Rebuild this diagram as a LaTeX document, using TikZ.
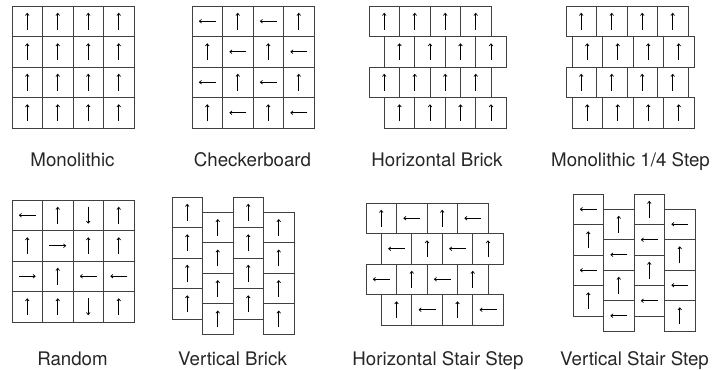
\documentclass[tikz,border=0pt]{standalone}
\usepackage{fontspec}
\setmainfont{TeX Gyre Heros}
\usetikzlibrary{arrows.meta}

\newcommand{\cellsize}{30.5}
% #1,#2 top left corner, #3 shift of odd rows, #4 drop of odd columns, #5 arrow angles row by row
\newcommand{\tilepanel}[5]{%
  \foreach [count=\r from 0] \row in {#5}
    \foreach [count=\c from 0] \a in \row {
      \pgfmathsetmacro{\tx}{#1+\c*\cellsize+mod(\r,2)*#3}
      \pgfmathsetmacro{\ty}{#2-\r*\cellsize-mod(\c,2)*#4}
      \draw[tile] (\tx,\ty) rectangle ++(\cellsize,-\cellsize);
      \draw[dir] (\tx+0.5*\cellsize,\ty-0.5*\cellsize) ++(\a+180:8.5) -- ++(\a:17);
    }
}

\tikzset{
  tile/.style={draw=black!75, line width=0.9pt},
  dir/.style={black, line width=0.7pt, -{Straight Barb[length=2.2pt,width=3.6pt]}},
  panelname/.style={font=\fontsize{18.7}{22}\selectfont, text=black!85, inner sep=0pt, anchor=base}
}

\begin{document}
\begin{tikzpicture}[x=1pt, y=1pt]
    \useasboundingbox (0,0) rectangle (716,370);

    % top row
    \tilepanel{12}{364}{0}{0}{{90,90,90,90},{90,90,90,90},{90,90,90,90},{90,90,90,90}}
    \node[panelname] (mono) at (72.5,203.5) {Monolithic};

    \tilepanel{192}{364}{0}{0}{{180,90,180,90},{90,180,90,180},{180,90,180,90},{90,180,90,180}}
    \node[panelname] (checker) at (252.5,203.5) {Checkerboard};

    \tilepanel{369}{364}{15.25}{0}{{90,90,90,90},{90,90,90,90},{90,90,90,90},{90,90,90,90}}
    \node[panelname] (hbrick) at (437,203.5) {Horizontal Brick};

    \tilepanel{566}{364}{6}{0}{{90,90,90,90},{90,90,90,90},{90,90,90,90},{90,90,90,90}}
    \node[panelname] (quarter) at (630.5,203.5) {Monolithic 1/4 Step};

    % bottom row
    \tilepanel{12}{170}{0}{0}{{180,90,270,90},{90,0,90,90},{0,90,180,180},{90,90,270,90}}
    \node[panelname] (random) at (72.5,4.2) {Random};

    \tilepanel{172}{173}{0}{15.25}{{90,90,90,90},{90,90,90,90},{90,90,90,90},{90,90,90,90}}
    \node[panelname] (vbrick) at (232.5,4.2) {Vertical Brick};

    \tilepanel{366}{167}{15.25}{0}{{90,180,90,180},{180,90,180,90},{180,90,180,90},{90,180,90,180}}
    \node[panelname] (hstair) at (438,4.2) {Horizontal Stair Step};

    \tilepanel{573}{176}{0}{15}{{180,90,90,180},{90,180,180,90},{180,90,90,180},{90,180,180,90}}
    \node[panelname] (vstair) at (634.5,4.2) {Vertical Stair Step};
\end{tikzpicture}
\end{document}
